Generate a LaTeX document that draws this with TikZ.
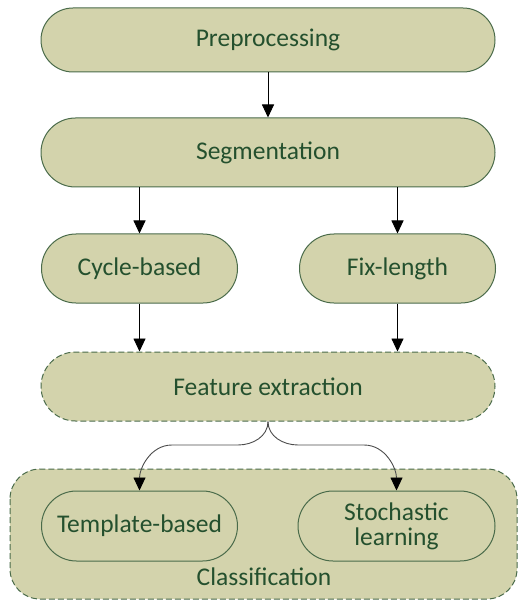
\documentclass[tikz,border=0pt]{standalone}
\usepackage{fontspec}
\setmainfont{Carlito}
\usetikzlibrary{shapes.misc,arrows.meta}
\definecolor{boxfill}{HTML}{D3D3AC}
\definecolor{boxline}{HTML}{4A6B4A}
\definecolor{txt}{HTML}{24502E}
\tikzset{
  stage/.style={rounded rectangle, draw=boxline, fill=boxfill, line width=1pt,
    text=txt, font=\fontsize{25.5}{25}\selectfont, inner sep=0pt, align=center},
  dashstage/.style={stage, dash pattern=on 6pt off 3pt},
  arr/.style={-{Triangle[length=13pt,width=12pt]}, line width=0.9pt, black},
  carr/.style={-{Triangle[length=13pt,width=12pt,color=black]}, line width=0.9pt, black!70},
}
\begin{document}
\begin{tikzpicture}[x=1pt,y=-1pt]
\useasboundingbox (0,0) rectangle (518,601);
% outer classification group
\draw[draw=boxline, fill=boxfill, line width=1pt, dash pattern=on 6pt off 3pt, rounded corners=30pt]
  (10,469) rectangle (517,599);
\node[text=txt, font=\fontsize{25.5}{25}\selectfont, anchor=base] (cls) at (264,585) {Classification};

\node[stage, minimum width=454, minimum height=64] (pre) at (268,40) {Preprocessing};
\node[stage, minimum width=454, minimum height=69] (seg) at (268,152.5) {Segmentation};
\node[stage, minimum width=196, minimum height=69] (cyc) at (139.5,268.5) {Cycle-based};
\node[stage, minimum width=196, minimum height=69] (fix) at (397.5,268.5) {Fix-length};
\node[dashstage, minimum width=454, minimum height=69] (fe) at (268,386.5) {Feature extraction};
\node[stage, minimum width=196, minimum height=70] (tb) at (139.5,526) {Template-based};
\node[stage, minimum width=197, minimum height=70] (sl) at (396.5,526) {Stochastic\\learning};

\draw[arr] (pre.south) -- (seg.north);
\draw[arr] (seg.south -| cyc.north) -- (cyc.north);
\draw[arr] (seg.south -| fix.north) -- (fix.north);
\draw[arr] (cyc.south) -- (cyc.south |- fe.north);
\draw[arr] (fix.south) -- (fix.south |- fe.north);

\coordinate (l1) at (238,445);
\coordinate (l2) at (172,445);
\coordinate (r1) at (298,445);
\coordinate (r2) at (364,445);
\draw[carr] (fe.south) to[out=-90,in=0] (l1) -- (l2) to[out=180,in=90] (tb.north);
\draw[carr] (fe.south) to[out=-90,in=180] (r1) -- (r2) to[out=0,in=90] (sl.north);
\end{tikzpicture}
\end{document}
